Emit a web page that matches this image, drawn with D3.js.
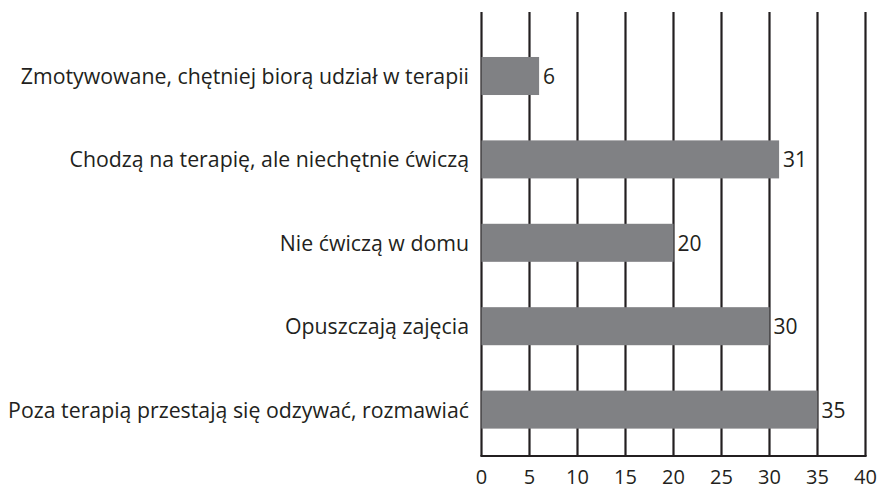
<!DOCTYPE html>
<html>
<head>
<meta charset="utf-8">
<script src="https://cdn.jsdelivr.net/npm/d3@7"></script>
<style>
  body { margin: 0; background: #fff; }
  svg { display: block; }
  text { font-family: "Open Sans", sans-serif; fill: #231f20; }
</style>
</head>
<body>
<div id="chart"></div>
<script>
// dane z wykresu
const categories = [
    "Zmotywowane, chętniej biorą udział w terapii",
    "Chodzą na terapię, ale niechętnie ćwiczą",
    "Nie ćwiczą w domu",
    "Opuszczają zajęcia",
    "Poza terapią przestają się odzywać, rozmawiać"
];
const values = [6, 31, 20, 30, 35];
const ticks = [0, 5, 10, 15, 20, 25, 30, 35, 40];

const width = 879, height = 490;
const plotLeft = 481.5, plotRight = 865.5, plotTop = 12, plotBottom = 456;

const svg = d3.select("#chart").append("svg")
    .attr("width", width)
    .attr("height", height);

const x = d3.scaleLinear().domain([0, 40]).range([plotLeft, plotRight]);
const y = d3.scaleBand().domain(categories).range([34.3, 451.3])
    .paddingInner(0.544).paddingOuter(0.272);

// linie siatki
svg.append("g").selectAll("line")
    .data(ticks)
    .join("line")
    .attr("x1", d => x(d)).attr("x2", d => x(d))
    .attr("y1", plotTop).attr("y2", plotBottom)
    .attr("stroke", "#231f20")
    .attr("stroke-width", 2.2);

svg.append("line")
    .attr("x1", x(0) - 1.1).attr("x2", x(40) + 1.1)
    .attr("y1", plotBottom).attr("y2", plotBottom)
    .attr("stroke", "#231f20")
    .attr("stroke-width", 2.2);

// słupki
svg.append("g").selectAll("rect")
    .data(values)
    .join("rect")
    .attr("x", x(0))
    .attr("y", (d, i) => y(categories[i]))
    .attr("width", d => x(d) - x(0))
    .attr("height", y.bandwidth())
    .attr("fill", "#808184");

// wartości
svg.append("g").selectAll("text")
    .data(values)
    .join("text")
    .attr("x", d => x(d) + 4)
    .attr("y", (d, i) => y(categories[i]) + y.bandwidth() / 2 + 8)
    .style("font-size", "21px")
    .text(d => d);

// etykiety kategorii
svg.append("g").selectAll("text")
    .data(categories)
    .join("text")
    .attr("x", 469)
    .attr("y", d => y(d) + y.bandwidth() / 2 + 8)
    .attr("text-anchor", "end")
    .style("font-size", "21.3px")
    .text(d => d);

// etykiety osi
svg.append("g").selectAll("text")
    .data(ticks)
    .join("text")
    .attr("x", d => x(d))
    .attr("y", 484)
    .attr("text-anchor", "middle")
    .style("font-size", "20px")
    .text(d => d);
</script>
</body>
</html>
